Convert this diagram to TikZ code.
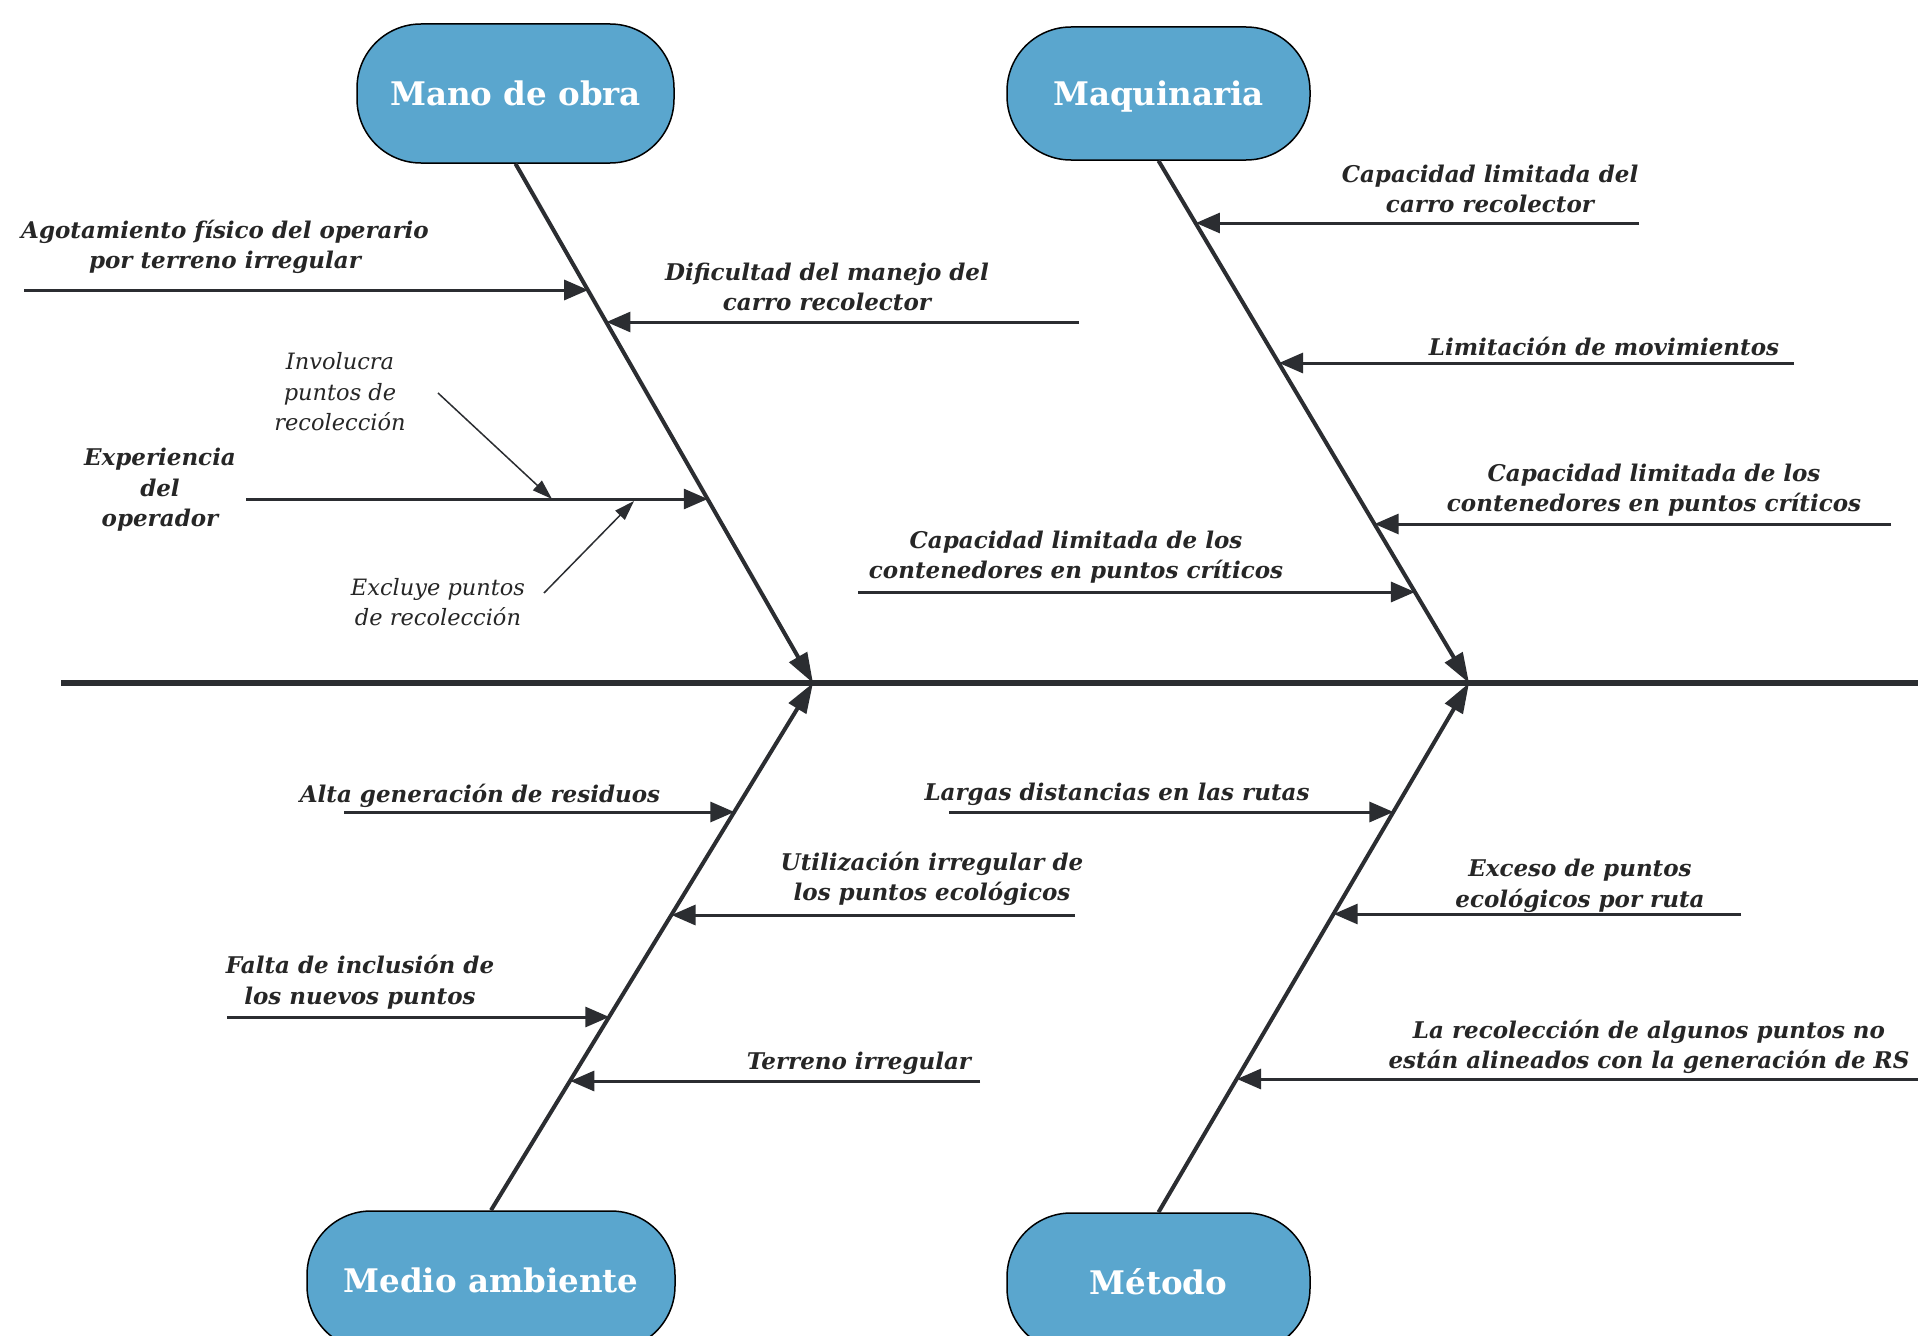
\documentclass[tikz,border=0pt]{standalone}
\usepackage{fontspec}
\setmainfont{DejaVu Serif}
\usetikzlibrary{arrows.meta,calc}
\definecolor{boxblue}{RGB}{90,166,206}
\definecolor{linecol}{RGB}{43,45,49}
\definecolor{txtcol}{RGB}{38,38,38}
\begin{document}
\begin{tikzpicture}[x=1pt,y=-1pt,
  cat/.style={draw=black,line width=1.5pt,fill=boxblue,rounded corners=64pt,text=white,
    font=\fontsize{32.5}{38}\selectfont\bfseries,inner sep=0pt,text height=26pt,text depth=2pt},
  spine/.style={draw=linecol,line width=6.5pt},
  bone/.style={draw=linecol,line width=4pt,-{Triangle[length=30pt,width=20pt]}},
  sub/.style={draw=linecol,line width=3pt,-{Triangle[length=24pt,width=20pt]}},
  ann/.style={draw=linecol,line width=1.5pt,-{Triangle[length=20pt,width=13pt]}},
  lab/.style={text=txtcol,align=center,inner sep=0pt,font=\fontsize{23}{30.5}\selectfont\bfseries\itshape},
  note/.style={text=txtcol,align=center,inner sep=0pt,font=\fontsize{22.5}{30.5}\selectfont\itshape}]
\useasboundingbox (0,0) rectangle (1918,1335);
\fill[white] (0,0) rectangle (1918,1335);

% category boxes
\node[cat,minimum width=317pt,minimum height=139pt] (mano) at (515.5,93.5) {Mano de obra};
\node[cat,minimum width=303pt,minimum height=133pt] (maq) at (1158.5,93.5) {Maquinaria};
\node[cat,minimum width=368pt,minimum height=139pt] (medio) at (491,1280.5) {Medio ambiente};
\node[cat,minimum width=303pt,minimum height=139pt] (metodo) at (1158.5,1282.5) {Método};

% spine
\coordinate (s0) at (61,683);
\coordinate (s1) at (1918,683);
\coordinate (j1) at (813,683);
\coordinate (j2) at (1469,683);
\draw[spine] (s0) -- (s1);

% bones
\draw[bone] (mano.south) -- (j1);
\draw[bone] (maq.south) -- (j2);
\draw[bone] (medio.north) -- (j1);
\draw[bone] (metodo.north) -- (j2);

% points on bones
\path (mano.south) -- (j1)
  coordinate[pos=0.2442] (a1)
  coordinate[pos=0.3058] (a2)
  coordinate[pos=0.6462] (a3);
\path (maq.south) -- (j2)
  coordinate[pos=0.1205] (a4)
  coordinate[pos=0.3881] (a5)
  coordinate[pos=0.696] (a6)
  coordinate[pos=0.826] (a7);
\path (medio.north) -- (j1)
  coordinate[pos=0.7557] (a8)
  coordinate[pos=0.5606] (a9)
  coordinate[pos=0.3674] (a10)
  coordinate[pos=0.2462] (a11);
\path (metodo.north) -- (j2)
  coordinate[pos=0.7566] (a12)
  coordinate[pos=0.5642] (a13)
  coordinate[pos=0.2528] (a14);

% free ends
\coordinate (b1) at (24,290);
\coordinate (b2) at (1079,322);
\coordinate (b3) at (246,499);
\coordinate (b4) at (1639,223);
\coordinate (b5) at (1794,363);
\coordinate (b6) at (1891,524);
\coordinate (b7) at (858,592);
\coordinate (b8) at (344,812);
\coordinate (b9) at (1075,915);
\coordinate (b10) at (227,1017);
\coordinate (b11) at (980,1081);
\coordinate (b12) at (949,812);
\coordinate (b13) at (1741,914);
\coordinate (b14) at (1918,1079);

% sub causes
\draw[sub] (b1) -- (b1 -| a1);
\draw[sub] (b2) -- (b2 -| a2);
\draw[sub] (b3) -- (b3 -| a3);
\draw[sub] (b4) -- (b4 -| a4);
\draw[sub] (b5) -- (b5 -| a5);
\draw[sub] (b6) -- (b6 -| a6);
\draw[sub] (b7) -- (b7 -| a7);
\draw[sub] (b8) -- (b8 -| a8);
\draw[sub] (b9) -- (b9 -| a9);
\draw[sub] (b10) -- (b10 -| a10);
\draw[sub] (b11) -- (b11 -| a11);
\draw[sub] (b12) -- (b12 -| a12);
\draw[sub] (b13) -- (b13 -| a13);
\draw[sub] (b14) -- (b14 -| a14);

% labels
\node[lab] (l1) at (225,247) {Agotamiento físico del operario\\por terreno irregular};
\node[lab] (l2) at (827,287) {Dificultad del manejo del\\carro recolector};
\node[lab] (l3) at (160,490) {Experiencia\\del\\operador};
\node[note] (l3a) at (340,392) {Involucra\\puntos de\\recolección};
\node[note] (l3b) at (438,602) {Excluye puntos\\de recolección};
\node[lab] (l4) at (1490,189) {Capacidad limitada del\\carro recolector};
\node[lab] (l5) at (1604,346) {Limitación de movimientos};
\node[lab] (l6) at (1654,490) {Capacidad limitada de los\\contenedores en puntos críticos};
\node[lab] (l7) at (1076,557) {Capacidad limitada de los\\contenedores en puntos críticos};
\node[lab] (l8) at (480,796) {Alta generación de residuos};
\node[lab] (l9) at (932,879) {Utilización irregular de\\los puntos ecológicos};
\node[lab] (l10) at (360,982) {Falta de inclusión de\\los nuevos puntos};
\node[lab] (l11) at (859,1063) {Terreno irregular};
\node[lab] (l12) at (1117,794) {Largas distancias en las rutas};
\node[lab] (l13) at (1580,886) {Exceso de puntos\\ecológicos por ruta};
\node[lab] (l14) at (1649,1047) {La recolección de algunos puntos no\\están alineados con la generación de RS};

% annotation arrows
\coordinate (n1s) at (438,393);
\coordinate (n1e) at (552,499);
\coordinate (n2s) at (544,593);
\coordinate (n2e) at (634,501);
\draw[ann] (n1s) -- (n1e);
\draw[ann] (n2s) -- (n2e);
\end{tikzpicture}
\end{document}
